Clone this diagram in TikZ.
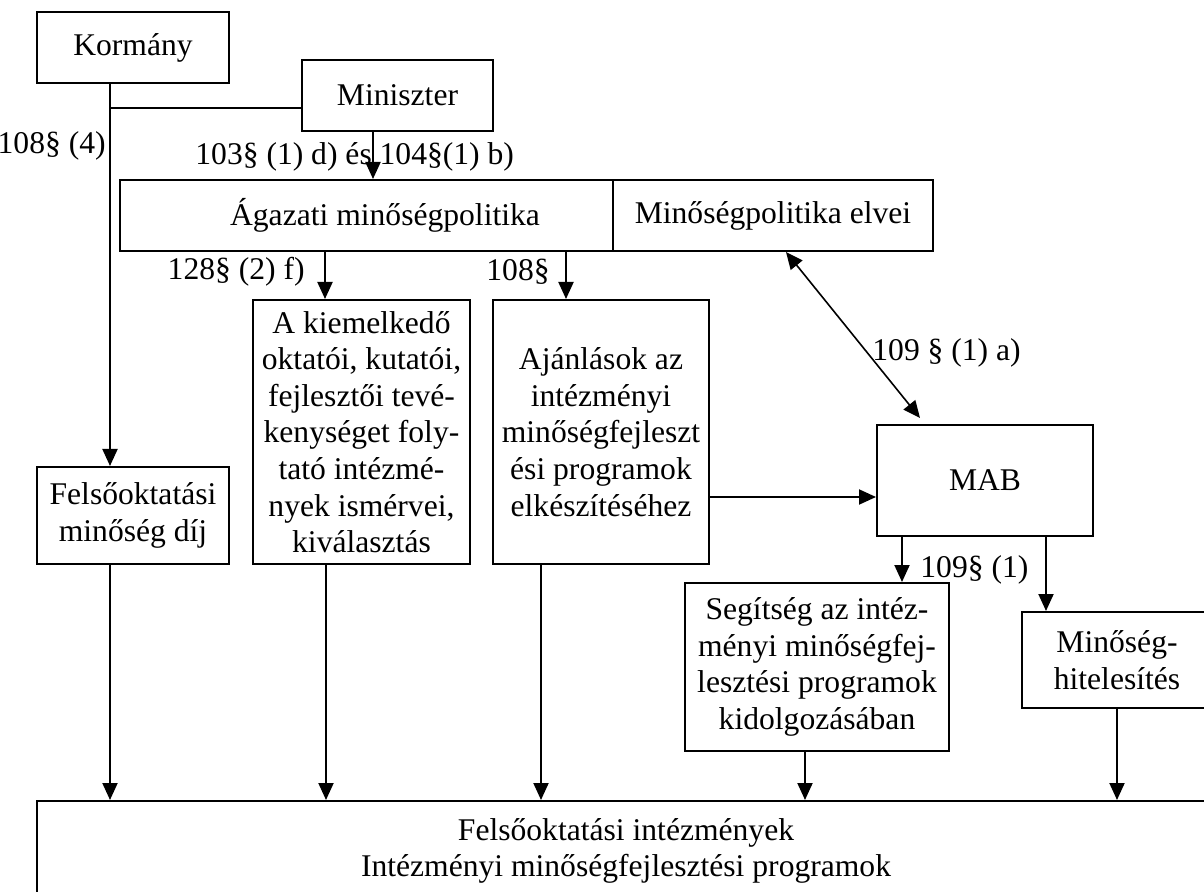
\documentclass[tikz,border=0pt]{standalone}
\usepackage{fontspec}
\setmainfont{Liberation Serif}
\usepackage{tikz}
\usetikzlibrary{arrows.meta}

\begin{document}
\begin{tikzpicture}[x=0.5pt, y=-0.5pt,
        every node/.style={font=\fontsize{15.8}{18.3}\selectfont}]
        \tikzstyle{boxStyle} = [rectangle, draw=black, line width=1pt, fill=white, align=center, inner sep=0pt]
        \tikzstyle{lawLabel} = [inner sep=0pt]
        \tikzstyle{plainEdge} = [draw=black, line width=1pt]
        \tikzstyle{arrowEdge} = [draw=black, line width=1pt, -{Triangle[length=8.5pt,width=7.5pt]}]
        \tikzstyle{bothEdge} = [draw=black, line width=0.8pt, {Triangle[length=8.5pt,width=7.5pt]}-{Triangle[length=8.5pt,width=7.5pt]}]
        \path[use as bounding box] (0,0) rectangle (1204,892);
        \clip (0,0) rectangle (1204,892);
        \node[boxStyle, minimum width=96pt, minimum height=35.5pt] (korm) at (133,47.5) {Kormány};
        \node[boxStyle, minimum width=95.5pt, minimum height=35.5pt] (mini) at (397.5,95.5) {Miniszter};
        \node[boxStyle, minimum width=265pt, minimum height=35.5pt] (agaz) at (385,215.5) {Ágazati minőségpolitika};
        \node[boxStyle, minimum width=160pt, minimum height=35.5pt] (elvei) at (773,215.5) {Minőségpolitika elvei};
        \node[boxStyle, minimum width=96pt, minimum height=48.5pt] (dij) at (133,515.5) {Felsőoktatási\\minőség díj};
        \node[boxStyle, minimum width=108.5pt, minimum height=132pt] (kiemel) at (361.5,432) {A kiemelkedő\\oktatói, kutatói,\\fejlesztői tevé-\\kenységet foly-\\tató intézmé-\\nyek ismérvei,\\kiválasztás};
        \node[boxStyle, minimum width=108pt, minimum height=132pt] (ajanl) at (601,432) {Ajánlások az\\intézményi\\minőségfejleszt\\ési programok\\elkészítéséhez};
        \node[boxStyle, minimum width=108pt, minimum height=55.5pt] (mab) at (985,480.5) {MAB};
        \node[boxStyle, minimum width=132pt, minimum height=84pt] (segit) at (817,667) {Segítség az intéz-\\ményi minőségfej-\\lesztési programok\\kidolgozásában};
        \node[boxStyle, minimum width=95pt, minimum height=48pt] (hitel) at (1117,660) {Minőség-\\hitelesítés};
        \node[boxStyle, minimum width=589pt, minimum height=50pt] (felso) at (626,851) {Felsőoktatási intézmények\\Intézményi minőségfejlesztési programok};
        \coordinate (join) at (110,108);
        \node[lawLabel, anchor=east] (l1) at (106,146) {108§ (4)};
        \node[lawLabel, anchor=west] (l2) at (195,157) {103§ (1) d) és 104§(1) b)};
        \node[lawLabel, anchor=east] (l3) at (305,272) {128§ (2) f)};
        \node[lawLabel, anchor=east] (l4) at (550,272) {108§};
        \node[lawLabel, anchor=west] (l5) at (872,353) {109 § (1) a)};
        \node[lawLabel, anchor=west] (l6) at (920,570) {109§ (1)};
        \draw[plainEdge] (mini.west |- join) -- (join);
        \draw[arrowEdge] (korm.south -| join) -- (dij.north -| join);
        \draw[arrowEdge] (mini.south -| 373,0) -- (agaz.north -| 373,0);
        \draw[arrowEdge] (agaz.south -| 325,0) -- (kiemel.north -| 325,0);
        \draw[arrowEdge] (agaz.south -| 566,0) -- (ajanl.north -| 566,0);
        \draw[bothEdge] (elvei.south -| 786,0) -- ([yshift=3pt]mab.north -| 920,0);
        \draw[arrowEdge] (ajanl.east |- 0,497) -- (mab.west |- 0,497);
        \draw[arrowEdge] (mab.south -| 902,0) -- (segit.north -| 902,0);
        \draw[arrowEdge] (mab.south -| 1046,0) -- (hitel.north -| 1046,0);
        \draw[arrowEdge] (dij.south -| 110,0) -- (felso.north -| 110,0);
        \draw[arrowEdge] (kiemel.south -| 326,0) -- (felso.north -| 326,0);
        \draw[arrowEdge] (ajanl.south -| 541,0) -- (felso.north -| 541,0);
        \draw[arrowEdge] (segit.south -| 805,0) -- (felso.north -| 805,0);
        \draw[arrowEdge] (hitel.south -| 1117,0) -- (felso.north -| 1117,0);
\end{tikzpicture}
\end{document}
